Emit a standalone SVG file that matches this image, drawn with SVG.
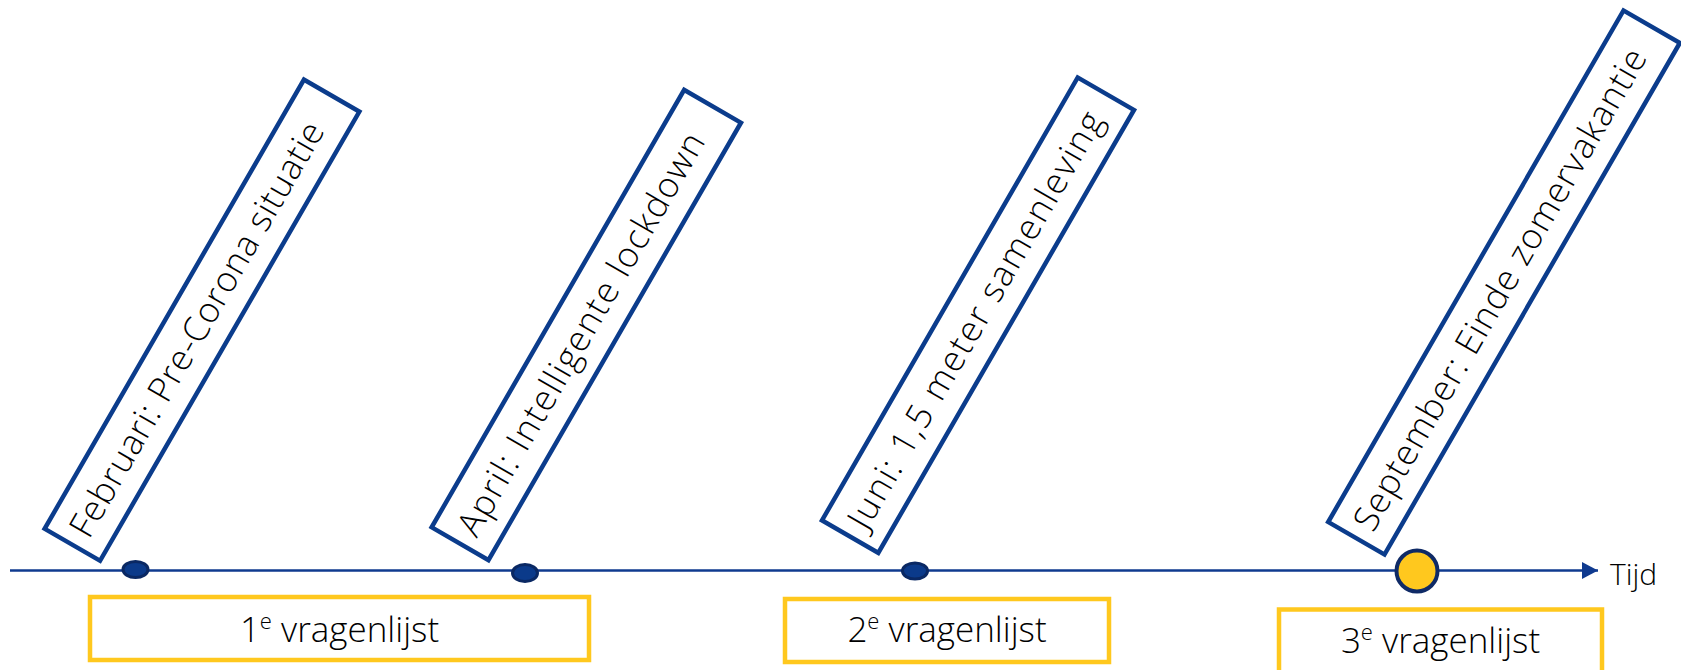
<svg xmlns="http://www.w3.org/2000/svg" width="1681" height="670" viewBox="0 0 1681 670">
<style>
  .slant { fill: #ffffff; stroke: #0b3c8c; stroke-width: 4.5; }
  .qbox { fill: #ffffff; stroke: #ffc81e; stroke-width: 4.5; }
  .lbl { font-family: "Open Sans", "Noto Sans", sans-serif; font-size: 35px; font-weight: 350; fill: #000000; }
  .qlbl { font-family: "Open Sans", "Noto Sans", sans-serif; font-size: 35px; font-weight: 350; fill: #000000; text-anchor: middle; }
  .sup { font-size: 22px; }
  .dot { fill: #0b3a8a; stroke: #0a2863; stroke-width: 3; }
  .axis { stroke: #0f3a8f; stroke-width: 2.5; fill: none; }
</style>
<defs>
  <marker id="arrow" viewBox="0 0 16 17" refX="16" refY="8.5" markerWidth="16" markerHeight="17" markerUnits="userSpaceOnUse" orient="auto">
    <path d="M0,0 L16,8.5 L0,17 Z" fill="#0f3a8f"/>
  </marker>
</defs>

<g id="connectors">
  <line class="axis" x1="10" y1="570.5" x2="1598" y2="570.5" marker-end="url(#arrow)"/>
</g>

<g id="n-februari" transform="translate(202,320.2) rotate(-60)">
  <rect class="slant" x="-259.3" y="-32" width="518.6" height="64"/>
  <text class="lbl" x="-247" y="12" textLength="473" lengthAdjust="spacing">Februari: Pre-Corona situatie</text>
</g>
<g id="n-april" transform="translate(586.3,325) rotate(-60)">
  <rect class="slant" x="-252.5" y="-32.8" width="505" height="65.6"/>
  <text class="lbl" x="-240" y="12" textLength="459" lengthAdjust="spacing">April: Intelligente lockdown</text>
</g>
<g id="n-juni" transform="translate(978,315.2) rotate(-60)">
  <rect class="slant" x="-255.7" y="-32.5" width="511.4" height="65"/>
  <text class="lbl" x="-243" y="12" textLength="475" lengthAdjust="spacing">Juni: 1,5 meter samenleving</text>
</g>
<g id="n-september" transform="translate(1504,282.5) rotate(-60)">
  <rect class="slant" x="-295.3" y="-32.5" width="590.6" height="65"/>
  <text class="lbl" x="-283" y="12" textLength="550" lengthAdjust="spacing">September: Einde zomervakantie</text>
</g>

<g id="dot-1"><ellipse class="dot" cx="135.5" cy="569.5" rx="12.5" ry="8"/></g>
<g id="dot-2"><ellipse class="dot" cx="525" cy="573" rx="12.5" ry="8.5"/></g>
<g id="dot-3"><ellipse class="dot" cx="915" cy="571" rx="12.5" ry="8"/></g>
<g id="dot-4"><circle cx="1417" cy="571" r="20.5" fill="#ffc81e" stroke="#0f2a66" stroke-width="4"/></g>

<g id="q-1">
  <rect class="qbox" x="90" y="597" width="499" height="63"/>
  <text class="qlbl" x="339.5" y="642">1<tspan class="sup" dy="-13">e</tspan><tspan dy="13"> vragenlijst</tspan></text>
</g>
<g id="q-2">
  <rect class="qbox" x="785" y="599" width="324" height="63"/>
  <text class="qlbl" x="947" y="642">2<tspan class="sup" dy="-13">e</tspan><tspan dy="13"> vragenlijst</tspan></text>
</g>
<g id="q-3">
  <rect class="qbox" x="1279" y="609.5" width="323" height="63"/>
  <text class="qlbl" x="1440.5" y="653">3<tspan class="sup" dy="-13">e</tspan><tspan dy="13"> vragenlijst</tspan></text>
</g>

<g id="label-tijd">
  <text class="lbl" x="1610" y="585" style="font-size:30px">Tijd</text>
</g>
</svg>
